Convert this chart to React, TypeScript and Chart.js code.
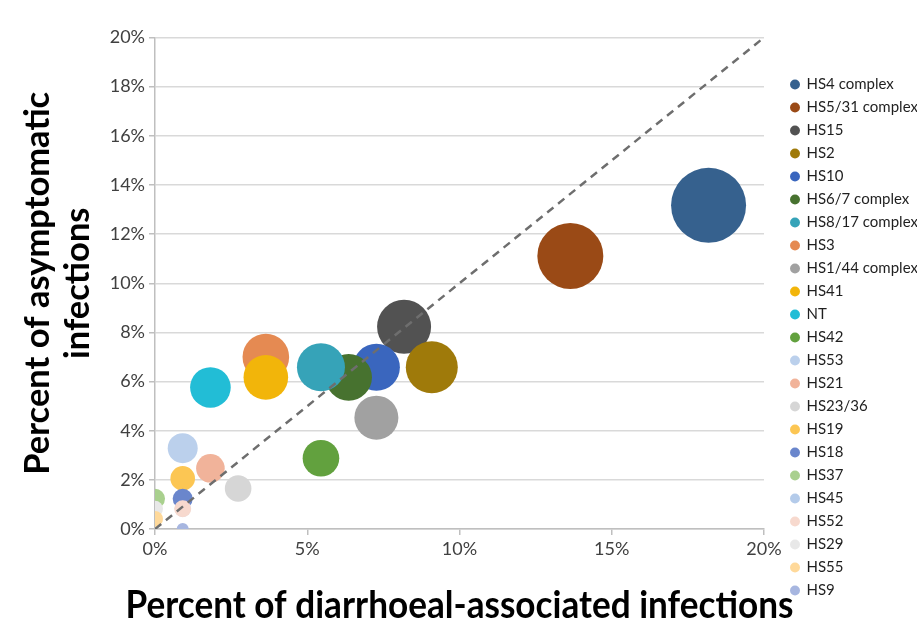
import React, { useEffect, useRef } from 'react';
import { Chart, registerables } from 'chart.js';

Chart.register(...registerables);

// ---- Data ----
const serotypes = [
  'HS4 complex', 'HS5/31 complex', 'HS15', 'HS2', 'HS10', 'HS6/7 complex',
  'HS8/17 complex', 'HS3', 'HS1/44 complex', 'HS41', 'NT', 'HS42', 'HS53',
  'HS21', 'HS23/36', 'HS19', 'HS18', 'HS37', 'HS45', 'HS52', 'HS29', 'HS55', 'HS9',
];
// Percent of diarrhoeal-associated infections (x)
const diarrhoealPct = [
  18.18, 13.64, 8.18, 9.09, 7.27, 6.36, 5.45, 3.64, 7.27, 3.64, 1.82, 5.45, 0.91,
  1.82, 2.73, 0.91, 0.91, 0, 0.91, 0.91, 0, 0, 0.91,
];
// Percent of asymptomatic infections (y)
const asymptomaticPct = [
  13.17, 11.11, 8.23, 6.58, 6.58, 6.17, 6.58, 7.0, 4.53, 6.17, 5.76, 2.88, 3.29,
  2.47, 1.65, 2.06, 1.23, 1.23, 0.82, 0.82, 0.82, 0.41, 0,
];
// Bubble size (radius)
const bubbleSize = [
  37.5, 33, 27, 26, 23.5, 23.3, 24, 23.3, 22, 22.3, 20.3, 18.3, 15,
  14.3, 13.3, 12.3, 10, 10, 8, 8.5, 8, 8, 6,
];
const colors = [
  '#36618E', '#9A4A16', '#525252', '#9F7A0A', '#3A66BE', '#47722F',
  '#36A3B8', '#E58A52', '#A1A1A1', '#F2B50A', '#22BDD6', '#62A13E', '#BBD0EC',
  '#F1B39A', '#D6D6D6', '#FCC653', '#6A86CC', '#A9D08E', '#B4CBEA', '#F7D9CE',
  '#E8E8E8', '#FFD99A', '#A7B6E0',
];
const xTickValues = [0, 5, 10, 15, 20];
const yTickValues = [0, 2, 4, 6, 8, 10, 12, 14, 16, 18, 20];
const equalityLine = [0, 20];

const xTitle = 'Percent of diarrhoeal-associated infections';
const yTitle = ['Percent of asymptomatic', 'infections'];

Chart.defaults.font.family = 'Lato';

const legendShift = {
  id: 'legendShift',
  afterLayout(chart: any) {
    const l = chart.legend;
    if (!l) return;
    const w = l.width;
    l.right = chart.width;
    l.left = chart.width - w;
  },
};

// x-axis title, drawn wider than the plot area (as in the reference)
const xTitlePlugin = {
  id: 'xTitleText',
  afterDraw(chart: any) {
    const { ctx, chartArea } = chart;
    ctx.save();
    ctx.font = 'bold 38.5px Lato';
    ctx.fillStyle = '#000';
    ctx.textAlign = 'center';
    ctx.textBaseline = 'middle';
    ctx.fillText(xTitle, (chartArea.left + chartArea.right) / 2, 606, 668);
    ctx.restore();
  },
};

export default function App() {
  const ref = useRef<HTMLCanvasElement | null>(null);

  useEffect(() => {
    if (!ref.current) return;
    const n = serotypes.length;
    const bubbleSets = serotypes.map((name, i) => ({
      type: 'bubble' as const,
      label: name,
      data: [{ x: diarrhoealPct[i], y: asymptomaticPct[i], r: bubbleSize[i] }],
      backgroundColor: colors[i],
      borderColor: colors[i],
      borderWidth: 0,
      hoverRadius: 0,
      order: n - i,
      clip: 0,
    }));
    const lineSet = {
      type: 'line' as const,
      label: '__equality',
      data: equalityLine.map((v) => ({ x: v, y: v })),
      borderColor: '#6E6E6E',
      borderWidth: 2.5,
      borderDash: [8, 6],
      pointRadius: 0,
      fill: false,
      order: 0,
      clip: 0,
    };

    const chart = new Chart(ref.current, {
      type: 'bubble',
      data: { datasets: [...bubbleSets, lineSet] as any },
      options: {
        responsive: false,
        animation: false,
        layout: { padding: { top: 18, left: 0, right: 0, bottom: 0 } },
        plugins: {
          tooltip: { enabled: false },
          legend: {
            position: 'right',
            align: 'start',
            maxWidth: 134,
            title: { display: true, text: '', font: { size: 10, lineHeight: 1 }, padding: { top: 41, bottom: 0 } },
            labels: {
              usePointStyle: true,
              pointStyle: 'circle',
              boxWidth: 8,
              boxHeight: 7,
              padding: 8,
              color: '#1F1F1F',
              font: { size: 15 },
              filter: (item: any) => item.text !== '__equality',
              sort: (a: any, b: any) => a.datasetIndex - b.datasetIndex,
            },
          },
        },
        scales: {
          x: {
            type: 'linear',
            min: 0,
            max: 20,
            afterBuildTicks: (s: any) => { s.ticks = xTickValues.map((v) => ({ value: v })); },
            afterFit: (s: any) => { s.height = 99; s.paddingRight = 153; },
            ticks: {
              color: '#404040',
              font: { size: 18 },
              padding: 3,
              maxRotation: 0,
              callback: (v: any) => v + '%',
            },
            grid: { drawOnChartArea: false, drawTicks: true, tickLength: 6, color: '#BFBFBF', lineWidth: 1.5 },
            border: { color: '#BFBFBF', width: 1.5 },
            title: { display: false, text: xTitle },
          },
          y: {
            type: 'linear',
            min: 0,
            max: 20,
            afterBuildTicks: (s: any) => { s.ticks = yTickValues.map((v) => ({ value: v })); },
            afterFit: (s: any) => { s.width = 155; },
            ticks: {
              color: '#404040',
              font: { size: 18 },
              padding: 4,
              callback: (v: any) => v + '%',
            },
            grid: { color: '#D9D9D9', lineWidth: 1.5, tickLength: 6, tickColor: '#BFBFBF' },
            border: { color: '#BFBFBF', width: 1.5 },
            title: {
              display: true,
              text: yTitle,
              color: '#000',
              font: { size: 34.5, weight: 'bold', lineHeight: 1.15 },
              padding: { top: 18, bottom: 0 },
            },
          },
        },
      },
      plugins: [legendShift, xTitlePlugin],
    });
    return () => chart.destroy();
  }, []);

  return (
    <div style={{ position: 'absolute', left: 0, top: 0, width: 917, height: 628, background: '#fff' }}>
      <canvas ref={ref} width={917} height={628} style={{ display: 'block' }} />
    </div>
  );
}
